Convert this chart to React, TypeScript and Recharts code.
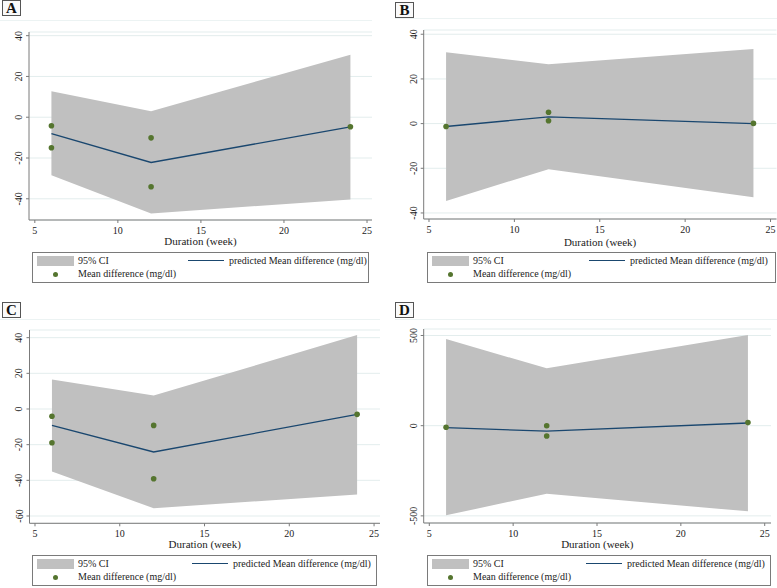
import React from 'react';
import { ComposedChart, Area, Line, Scatter, XAxis, YAxis, CartesianGrid } from 'recharts';

const FONT = '"Liberation Serif", "Times New Roman", serif';

// shared x categories (weeks) and tick labels
const weeks = [6, 12, 24];
const xTicks = [5, 10, 15, 20, 25];

// panel A
const ciLowA = [-28.4, -47.2, -40.3];
const ciHighA = [12.7, 2.9, 30.7];
const fitA = [-8.0, -22.2, -4.7];
const obsWeeksA = [6, 6, 12, 12, 24];
const obsA = [-4.2, -15.0, -10.1, -34.1, -4.7];
const yTicksA = [-40, -20, 0, 20, 40];

// panel B
const ciLowB = [-34.6, -20.4, -33.0];
const ciHighB = [31.9, 26.6, 33.4];
const fitB = [-1.3, 3.0, 0.0];
const obsWeeksB = [6, 12, 12, 24];
const obsB = [-1.3, 5.1, 1.3, 0.1];
const yTicksB = [-40, -20, 0, 20, 40];

// panel C
const ciLowC = [-35.1, -55.7, -47.9];
const ciHighC = [16.6, 7.5, 41.5];
const fitC = [-9.2, -24.1, -3.0];
const obsWeeksC = [6, 6, 12, 12, 24];
const obsC = [-4.1, -18.9, -9.2, -39.1, -3.0];
const yTicksC = [-60, -40, -20, 0, 20, 40];

// panel D
const ciLowD = [-497, -377, -475];
const ciHighD = [480, 318, 503];
const fitD = [-11, -30, 15];
const obsWeeksD = [6, 12, 12, 24];
const obsD = [-9, 0, -57, 17];
const yTicksD = [-500, 0, 500];

const BAND = '#c0c0c0';
const NAVY = '#1a476f';
const GREEN = '#55752f';
const AXIS = '#7a7a7a';
const GRID = '#e3eded';

const YTick = (props: any) => {
  const { x, y, payload } = props;
  return (
    <text
      x={x}
      y={y}
      transform={`rotate(-90 ${x} ${y})`}
      textAnchor="middle"
      fontSize={10}
      fontFamily={FONT}
      fill="#222"
    >
      {payload.value}
    </text>
  );
};

const Dot = (props: any) => <circle cx={props.cx} cy={props.cy} r={2.8} fill={GREEN} />;

function PanelLegend({ left, top, width }: { left: number; top: number; width: number }) {
  const col2 = Math.round(width * 0.46);
  const txt: React.CSSProperties = { position: 'absolute', fontSize: 10, fontFamily: FONT, color: '#222', lineHeight: '12px', whiteSpace: 'nowrap' };
  return (
    <div style={{ position: 'absolute', left, top, width, height: 31, border: `1px solid ${AXIS}`, boxSizing: 'border-box', background: '#fff' }}>
      <div style={{ position: 'absolute', left: 4, top: 3, width: 37, height: 10, background: BAND }} />
      <div style={{ ...txt, left: 45, top: 2 }}>95% CI</div>
      <div style={{ position: 'absolute', left: col2, top: 7, width: 36, height: 1.3, background: NAVY }} />
      <div style={{ ...txt, left: col2 + 41, top: 2 }}>predicted Mean difference (mg/dl)</div>
      <div style={{ position: 'absolute', left: 19.5, top: 19, width: 5, height: 5, borderRadius: '50%', background: GREEN }} />
      <div style={{ ...txt, left: 45, top: 15 }}>Mean difference (mg/dl)</div>
    </div>
  );
}

type PanelProps = {
  letter: string;
  ox: number;
  oy: number;
  plot: { left: number; top: number; right: number; bottom: number };
  xDomain: [number, number];
  yDomain: [number, number];
  yTicks: number[];
  lo: number[];
  hi: number[];
  fit: number[];
  obsWeeks: number[];
  obs: number[];
  letterBox: { left: number; top: number };
  topLine: { left: number; top: number; width: number };
  legend: { left: number; top: number; width: number };
  titleOffset: number;
};

function Panel(p: PanelProps) {
  const rows = weeks.map((w, i) => ({ week: w, ci: [p.lo[i], p.hi[i]], fit: p.fit[i] }));
  const points = p.obsWeeks.map((w, i) => ({ week: w, value: p.obs[i] }));
  const marginTop = 5;
  const xAxisH = 40;
  const yAxisW = p.plot.left - p.ox;
  const width = p.plot.right - p.ox + 2;
  const height = p.plot.bottom - p.plot.top + marginTop + xAxisH;
  return (
    <>
      <div style={{ position: 'absolute', left: p.topLine.left, top: p.topLine.top, width: p.topLine.width, height: 1, background: '#ecf3f3' }} />
      <div
        style={{
          position: 'absolute', left: p.letterBox.left, top: p.letterBox.top, width: 19, height: 16,
          border: '1px solid #555', boxSizing: 'border-box', fontFamily: FONT, fontWeight: 'bold',
          fontSize: 15, lineHeight: '15px', textAlign: 'center', color: '#111', background: '#fafafa',
        }}
      >
        {p.letter}
      </div>
      <div style={{ position: 'absolute', left: p.ox, top: p.plot.top - marginTop }}>
        <ComposedChart
          width={width}
          height={height}
          data={rows}
          margin={{ top: marginTop, right: 2, bottom: 0, left: 0 }}
          style={{ fontFamily: FONT }}
        >
          <CartesianGrid horizontal vertical={false} stroke={GRID} strokeWidth={1} />
          <XAxis
            type="number"
            dataKey="week"
            domain={p.xDomain}
            ticks={xTicks}
            allowDataOverflow
            height={xAxisH}
            stroke={AXIS}
            tickSize={3}
            tickMargin={4}
            tick={{ fontSize: 10, fill: '#222', fontFamily: FONT }}
            label={{ value: 'Duration (week)', position: 'insideBottom', offset: p.titleOffset, fontSize: 11, fill: '#222', fontFamily: FONT }}
          />
          <YAxis
            type="number"
            domain={p.yDomain}
            ticks={p.yTicks}
            allowDataOverflow
            width={yAxisW}
            stroke={AXIS}
            tickSize={3}
            tickMargin={4}
            tick={<YTick />}
          />
          <Area type="linear" dataKey="ci" stroke="none" fill={BAND} fillOpacity={1} isAnimationActive={false} />
          <Line type="linear" dataKey="fit" stroke={NAVY} strokeWidth={1.3} dot={false} isAnimationActive={false} />
          <Scatter data={points} dataKey="value" shape={<Dot />} isAnimationActive={false} />
        </ComposedChart>
      </div>
      <PanelLegend {...p.legend} />
    </>
  );
}

export default function App() {
  return (
    <div style={{ position: 'absolute', left: 0, top: 0, width: 777, height: 588, background: '#fff', overflow: 'hidden', fontFamily: FONT }}>
      <Panel
        letter="A" ox={0} oy={0}
        plot={{ left: 29, top: 32, right: 372, bottom: 220 }}
        xDomain={[4.65, 25.3]} yDomain={[-50.4, 41.8]} yTicks={yTicksA}
        lo={ciLowA} hi={ciHighA} fit={fitA} obsWeeks={obsWeeksA} obs={obsA}
        letterBox={{ left: 2, top: 0 }} topLine={{ left: 0, top: 20, width: 372 }}
        legend={{ left: 32, top: 252, width: 337 }} titleOffset={15}
      />
      <Panel
        letter="B" ox={388} oy={0}
        plot={{ left: 423.7, top: 30, right: 776.5, bottom: 219 }}
        xDomain={[4.69, 25.35]} yDomain={[-42.7, 41.9]} yTicks={yTicksB}
        lo={ciLowB} hi={ciHighB} fit={fitB} obsWeeks={obsWeeksB} obs={obsB}
        letterBox={{ left: 395, top: 2 }} topLine={{ left: 395, top: 18, width: 382 }}
        legend={{ left: 427, top: 252, width: 349 }} titleOffset={13}
      />
      <Panel
        letter="C" ox={0} oy={295}
        plot={{ left: 29.5, top: 330, right: 380, bottom: 523.3 }}
        xDomain={[4.676, 25.35]} yDomain={[-64.1, 44.3]} yTicks={yTicksC}
        lo={ciLowC} hi={ciHighC} fit={fitC} obsWeeks={obsWeeksC} obs={obsC}
        letterBox={{ left: 2, top: 302 }} topLine={{ left: 0, top: 319, width: 380 }}
        legend={{ left: 32, top: 555, width: 345 }} titleOffset={15}
      />
      <Panel
        letter="D" ox={388} oy={295}
        plot={{ left: 423.7, top: 329.3, right: 771, bottom: 523.3 }}
        xDomain={[4.666, 25.375]} yDomain={[-539.5, 536]} yTicks={yTicksD}
        lo={ciLowD} hi={ciHighD} fit={fitD} obsWeeks={obsWeeksD} obs={obsD}
        letterBox={{ left: 395, top: 302 }} topLine={{ left: 395, top: 319, width: 382 }}
        legend={{ left: 427, top: 555, width: 344 }} titleOffset={15}
      />
    </div>
  );
}
